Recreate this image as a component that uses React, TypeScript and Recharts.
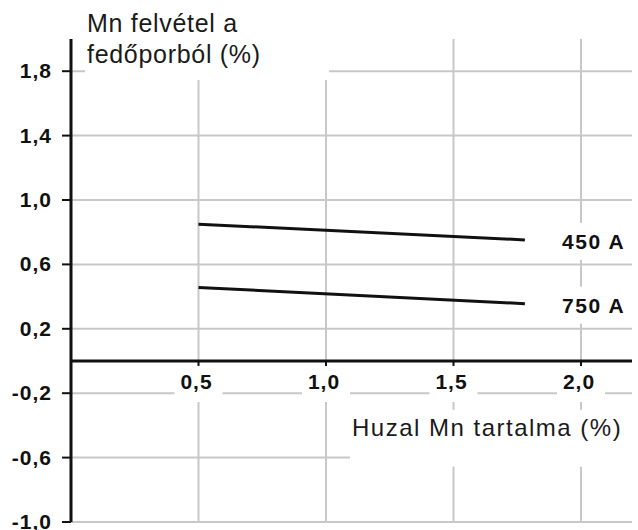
import React from "react";
import {
  LineChart,
  Line,
  XAxis,
  YAxis,
  CartesianGrid,
  ReferenceLine,
  ReferenceDot,
  ReferenceArea,
} from "recharts";

// Data
const mnContent = [0.5, 1.78]; // Huzal Mn tartalma (%)
const uptake450 = [0.85, 0.752]; // 450 A
const uptake750 = [0.457, 0.356]; // 750 A
const xTicks = [0.5, 1.0, 1.5, 2.0];
const yTicks = [1.8, 1.4, 1.0, 0.6, 0.2, -0.2, -0.6, -1.0];
const seriesNames = ["450 A", "750 A"];
const titleLines = ["Mn felvétel a", "fedőporból (%)"];
const xAxisTitle = "Huzal Mn tartalma (%)";

const data = mnContent.map((x, i) => ({ x, a450: uptake450[i], a750: uptake750[i] }));

const FONT = "'Liberation Sans', Arial, Helvetica, sans-serif";
const fmt = (v: number) => v.toFixed(1).replace(".", ",");

const YTick = (props: any) => {
  const { x, y, payload } = props;
  return (
    <text
      x={x - 8}
      y={y + 7}
      textAnchor="end"
      fontFamily={FONT}
      fontWeight="bold"
      fontSize={21}
      letterSpacing={1}
      fill="#111"
    >
      {fmt(payload.value)}
    </text>
  );
};

const XTickShape = (label: string) => (props: any) => {
  const { cx, cy } = props;
  return (
    <g>
      <rect x={cx - 24} y={cy + 2} width={48} height={39} fill="#fff" />
      <line x1={cx} y1={cy} x2={cx} y2={cy + 5} stroke="#111" strokeWidth={2} />
      <text
        x={cx - 2}
        y={cy + 28}
        textAnchor="middle"
        fontFamily={FONT}
        fontWeight="bold"
        fontSize={21}
        letterSpacing={1}
        fill="#111"
      >
        {label}
      </text>
    </g>
  );
};

const SeriesLabelShape = (label: string) => (props: any) => {
  const { cx, cy } = props;
  return (
    <g>
      <rect x={cx + 30} y={cy - 17} width={74} height={37} fill="#fff" />
      <text
        x={cx + 37}
        y={cy + 9}
        fontFamily={FONT}
        fontWeight="bold"
        fontSize={21}
        letterSpacing={1.6}
        fill="#111"
      >
        {label}
      </text>
    </g>
  );
};

const TitleShape = (props: any) => {
  const { x, y, width, height } = props;
  return (
    <g>
      <rect x={x} y={y} width={width} height={height} fill="#fff" />
      {titleLines.map((t, i) => (
        <text
          key={i}
          x={x + 2}
          y={y + 32 + i * 31}
          fontFamily={FONT}
          fontSize={25}
          letterSpacing={0.7}
          fill="#1a1a1a"
        >
          {t}
        </text>
      ))}
    </g>
  );
};

const AxisTitleShape = (props: any) => {
  const { x, y, width, height } = props;
  return (
    <g>
      <rect x={x} y={y} width={width} height={height} fill="#fff" />
      <text
        x={x + 2}
        y={y + 26}
        fontFamily={FONT}
        fontSize={24}
        letterSpacing={1.5}
        fill="#1a1a1a"
      >
        {xAxisTitle}
      </text>
    </g>
  );
};

export default function App() {
  return (
    <div style={{ position: "absolute", left: 0, top: 0, background: "#fff" }}>
      <LineChart
        width={638}
        height={530}
        data={data}
        margin={{ top: 39, right: 6, bottom: 8, left: 0 }}
      >
        <CartesianGrid
          stroke="#c8c8c8"
          strokeWidth={2}
          horizontalValues={yTicks}
          verticalValues={xTicks}
        />
        <XAxis dataKey="x" type="number" domain={[0, 2.2]} ticks={xTicks} hide />
        <YAxis
          type="number"
          domain={[-1, 2]}
          ticks={yTicks}
          width={71}
          interval={0}
          axisLine={{ stroke: "#111", strokeWidth: 3 }}
          tickLine={{ stroke: "#111", strokeWidth: 2 }}
          tickSize={9}
          tick={<YTick />}
        />
        <ReferenceArea
          x1={0.055}
          x2={1.012}
          y1={1.745}
          y2={2.243}
          ifOverflow="visible"
          shape={TitleShape}
        />
        <ReferenceArea
          x1={1.094}
          x2={2.2}
          y1={-0.656}
          y2={-0.303}
          ifOverflow="visible"
          shape={AxisTitleShape}
        />
        <ReferenceLine y={0} stroke="#111" strokeWidth={3} />
        {xTicks.map((t) => (
          <ReferenceDot
            key={t}
            x={t}
            y={0}
            r={0}
            ifOverflow="visible"
            shape={XTickShape(fmt(t))}
          />
        ))}
        <Line
          dataKey="a450"
          stroke="#111"
          strokeWidth={3}
          dot={false}
          isAnimationActive={false}
        />
        <Line
          dataKey="a750"
          stroke="#111"
          strokeWidth={3}
          dot={false}
          isAnimationActive={false}
        />
        <ReferenceDot
          x={mnContent[mnContent.length - 1]}
          y={uptake450[uptake450.length - 1]}
          r={0}
          ifOverflow="visible"
          shape={SeriesLabelShape(seriesNames[0])}
        />
        <ReferenceDot
          x={mnContent[mnContent.length - 1]}
          y={uptake750[uptake750.length - 1]}
          r={0}
          ifOverflow="visible"
          shape={SeriesLabelShape(seriesNames[1])}
        />
      </LineChart>
    </div>
  );
}
